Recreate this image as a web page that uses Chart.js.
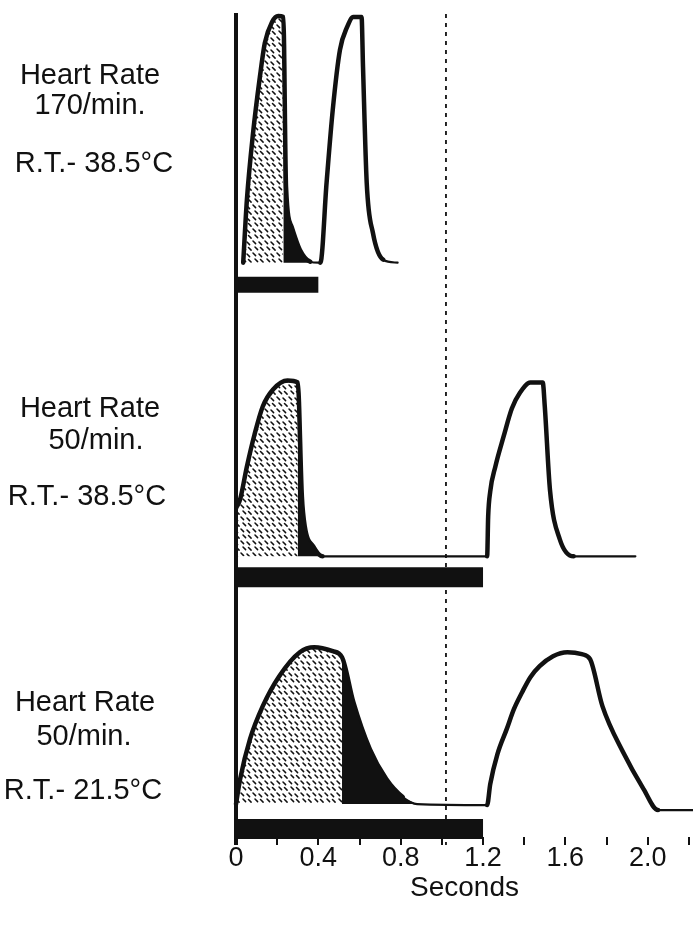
<!DOCTYPE html>
<html>
<head>
<meta charset="utf-8">
<script src="https://cdn.jsdelivr.net/npm/chart.js@4.4.1/dist/chart.umd.min.js"></script>
<style>
  html, body { margin: 0; padding: 0; background: #fff; }
  #wrap { position: relative; width: 693px; height: 925px; }
  #chart { position: absolute; left: 0; top: 0; }
  .lbl { position: absolute; transform: translate(-50%, -50%); white-space: nowrap;
         font-family: "Liberation Sans", Arial, sans-serif; font-size: 29px; color: #111; line-height: 1; }
</style>
</head>
<body>
<div id="wrap">
  <canvas id="chart" width="693" height="925"></canvas>
  <div class="lbl" style="left:90px; top:74px">Heart Rate</div>
  <div class="lbl" style="left:90px; top:104px">170/min.</div>
  <div class="lbl" style="left:94px; top:162px">R.T.- 38.5°C</div>
  <div class="lbl" style="left:90px; top:407px">Heart Rate</div>
  <div class="lbl" style="left:96px; top:439px">50/min.</div>
  <div class="lbl" style="left:87px; top:495px">R.T.- 38.5°C</div>
  <div class="lbl" style="left:85px; top:701px">Heart Rate</div>
  <div class="lbl" style="left:84px; top:735px">50/min.</div>
  <div class="lbl" style="left:83px; top:789px">R.T.- 21.5°C</div>
</div>
<script>
    const FONT = '"Liberation Sans", Arial, sans-serif';
    const INK = '#111';

    // --- data (seconds / tension units) ---
    // heart rate 170/min, 38.5 C
    const hr170Time = [0.035, 0.053, 0.083, 0.116, 0.14, 0.175, 0.205, 0.23, 0.243, 0.27, 0.31, 0.36, 0.40,
                       0.41, 0.44, 0.47, 0.505, 0.54, 0.57, 0.61, 0.617, 0.635, 0.665, 0.715, 0.785];
    const hr170Amp  = [0, 63, 130, 186, 220, 241, 247, 246, 76, 36, 13, 1, 0,
                       0, 80, 153, 213, 236, 246, 246, 196, 80, 30, 3, 0];
    // heart rate 50/min, 38.5 C
    const hr50Time = [0.005, 0.02, 0.053, 0.09, 0.13, 0.18, 0.25, 0.30, 0.32, 0.334, 0.375, 0.42,
                      1.22, 1.225, 1.235, 1.26, 1.30, 1.34, 1.38, 1.43, 1.49, 1.50, 1.525, 1.573, 1.64, 1.94];
    const hr50Amp  = [50, 57, 90, 122, 150, 167, 176, 174, 60, 30, 10, 0,
                      0, 40, 65, 90, 120, 148, 164, 174, 174, 150, 67, 17, 0, 0];
    // heart rate 50/min, 21.5 C
    const hr50ColdTime = [0.0, 0.02, 0.068, 0.13, 0.21, 0.31, 0.38, 0.47, 0.515, 0.57, 0.65, 0.73, 0.81, 0.88,
                          1.22, 1.235, 1.27, 1.315, 1.35, 1.39, 1.43, 1.475, 1.54, 1.61, 1.68, 1.72,
                          1.78, 1.88, 1.98, 2.05, 2.22];
    const hr50ColdAmp  = [0, 25, 65, 98, 128, 152, 157, 153, 147, 102, 55, 25, 7, 0,
                          -1, 20, 50, 75, 95, 112, 127, 138, 148, 152, 150, 145,
                          98, 52, 15, -6, -6];

    // stippled part ends at split, black part runs from split to end
    const shadeSplit = [0.23, 0.30, 0.515];
    const shadeEnd = [0.40, 0.42, 0.88];
    const cycleBar = [0.4, 1.2, 1.2];      // bar under each trace, seconds
    const refTime = 1.02;                   // dotted marker
    const tickLabels = ['0', '0.4', '0.8', '1.2', '1.6', '2.0'];

    // --- layout (y units above the x axis) ---
    const panelBase = [575, 281, 33];
    const barGap = [22, 21, 25];
    const barThick = [16, 20, 20];

    function stipple() {
        const c = document.createElement('canvas');
        c.width = 12; c.height = 12;
        const g = c.getContext('2d');
        g.strokeStyle = INK;
        g.lineWidth = 1.5;
        g.lineCap = 'round';
        g.beginPath();
        [[1, 1], [7, 2], [3, 7], [8.5, 7.5]].forEach(([a, b]) => {
            g.moveTo(a, b); g.lineTo(a + 2.6, b + 2.6);
        });
        g.stroke();
        return g.createPattern(c, 'repeat');
    }
    const pattern = stipple();

    const traces = [
        { t: hr170Time, a: hr170Amp },
        { t: hr50Time, a: hr50Amp },
        { t: hr50ColdTime, a: hr50ColdAmp }
    ];

    const datasets = [];
    traces.forEach((tr, p) => {
        const base = panelBase[p];
        const pts = tr.t.map((t, i) => ({ x: t, y: tr.a[i] + base }));
        const common = { pointRadius: 0, clip: false, cubicInterpolationMode: 'monotone' };
        datasets.push(Object.assign({}, common, {
            data: pts.filter(d => d.x <= shadeSplit[p]),
            borderWidth: 0, backgroundColor: pattern, fill: { value: base }
        }));
        datasets.push(Object.assign({}, common, {
            data: pts.filter(d => d.x >= shadeSplit[p] && d.x <= shadeEnd[p]),
            borderWidth: 0, backgroundColor: INK, fill: { value: base }
        }));
        datasets.push(Object.assign({}, common, {
            data: pts, fill: false, borderColor: INK, borderJoinStyle: 'round', borderCapStyle: 'round',
            segment: {
                borderWidth: ctx => (Math.abs(tr.a[ctx.p0DataIndex]) <= 7 && Math.abs(tr.a[ctx.p1DataIndex]) <= 7) ? 2.2 : 4.5
            }
        }));
        const by = base - barGap[p];
        datasets.push({
            data: [{ x: 0, y: by }, { x: cycleBar[p], y: by }],
            borderColor: INK, borderWidth: barThick[p], borderCapStyle: 'butt',
            pointRadius: 0, fill: false, clip: false
        });
    });

    const guides = {
        id: 'guides',
        beforeDatasetsDraw(chart) {
            const { ctx, scales: { x }, chartArea } = chart;
            ctx.save();
            ctx.strokeStyle = INK;
            ctx.lineWidth = 1.8;
            ctx.setLineDash([4, 5]);
            const px = x.getPixelForValue(refTime);
            ctx.beginPath();
            ctx.moveTo(px, chartArea.top + 14);
            ctx.lineTo(px, chartArea.bottom + 8);
            ctx.stroke();
            ctx.restore();
        },
        afterDatasetsDraw(chart) {
            const { ctx, scales: { x, y }, chartArea } = chart;
            ctx.save();
            ctx.strokeStyle = INK;
            ctx.lineWidth = 4;
            const px = x.getPixelForValue(0);
            ctx.beginPath();
            ctx.moveTo(px, y.getPixelForValue(825));
            ctx.lineTo(px, chartArea.bottom + 8);
            ctx.stroke();
            ctx.restore();
        }
    };

    new Chart(document.getElementById('chart'), {
        type: 'line',
        data: { datasets },
        plugins: [guides],
        options: {
            responsive: false,
            animation: false,
            devicePixelRatio: 1,
            layout: { padding: { left: 236, right: 0, top: 0, bottom: 19 } },
            plugins: { legend: { display: false }, tooltip: { enabled: false } },
            scales: {
                x: {
                    type: 'linear', min: 0, max: 2.22,
                    border: { display: false },
                    grid: { drawOnChartArea: false, drawTicks: true, tickLength: 8, color: INK, lineWidth: 2 },
                    ticks: {
                        stepSize: 0.2, includeBounds: false, autoSkip: false, maxRotation: 0, padding: 0,
                        color: INK, font: { family: FONT, size: 27, lineHeight: 1 },
                        callback: v => {
                            const k = Math.round(v * 10);
                            return k % 4 === 0 ? tickLabels[k / 4] : '';
                        }
                    },
                    title: {
                        display: true, text: 'Seconds', color: INK,
                        font: { family: FONT, size: 28, lineHeight: 1 }, padding: { top: 2, bottom: 4 }
                    }
                },
                y: { display: false, min: 0, max: 838 }
            }
        }
    });
</script>
</body>
</html>
